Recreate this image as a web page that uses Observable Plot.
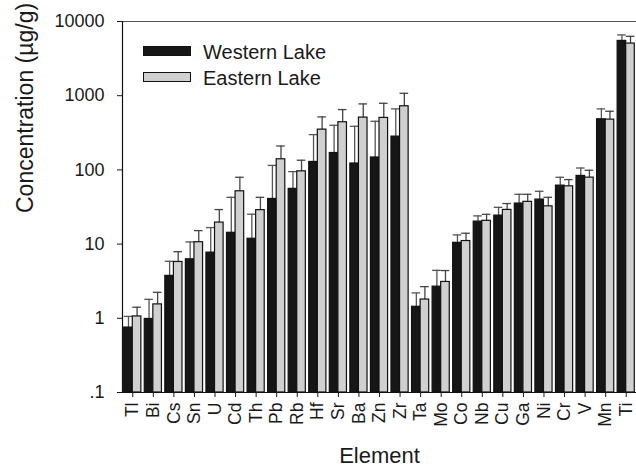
<!DOCTYPE html>
<html>
<head>
<meta charset="utf-8">
<script src="https://cdn.jsdelivr.net/npm/d3@7"></script>
<script src="https://cdn.jsdelivr.net/npm/@observablehq/plot@0.6"></script>
<style>
  body { margin: 0; background: #fff; overflow: hidden; }
  #wrap { position: relative; width: 636px; height: 471px; overflow: hidden; font-family: "Liberation Sans", Arial, sans-serif; }
  #wrap svg { display: block; }
  .lg { position: absolute; left: 143px; font-size: 20px; color: #1a1a1a; }
  .sw { position: absolute; left: 0; width: 45.5px; height: 8px; border: 1.2px solid #111; }
  .lt { position: absolute; left: 60px; white-space: nowrap; line-height: 20px; }
</style>
</head>
<body>
<div id="wrap"></div>
<script>
const elements = ["Tl","Bi","Cs","Sn","U","Cd","Th","Pb","Rb","Hf","Sr","Ba","Zn","Zr","Ta","Mo","Co","Nb","Cu","Ga","Ni","Cr","V","Mn","Ti"];
const western      = [0.75, 0.98, 3.73, 6.24, 7.68, 14.2, 11.8, 40.6, 55.5, 128, 169, 122, 147, 281, 1.43, 2.67, 10.4, 20.1, 24.2, 35.2, 39.8, 61.4, 83, 481, 5475];
const westernUpper = [1.06, 1.80, 5.86, 10.7, 16.7, 42.7, 25.3, 115, 94.8, 299, 399, 387, 452, 664, 2.2, 4.43, 13.3, 24.0, 31.3, 46.9, 51.5, 79.5, 106, 664, 6590];
const eastern      = [1.06, 1.54, 5.75, 10.6, 19.5, 51.5, 28.7, 139, 95.7, 349, 439, 507, 502, 720, 1.79, 3.09, 11.0, 20.6, 28.9, 37.1, 32.3, 60.1, 78.7, 476, 5040];
const easternUpper = [1.41, 2.24, 7.9, 15.2, 29.2, 79.5, 42.7, 210, 135, 518, 650, 775, 790, 1077, 2.67, 4.4, 14.0, 25.2, 35.2, 46.9, 42.7, 74, 98.9, 617, 6310];
const seriesNames = ["Western Lake", "Eastern Lake"];
const yTicks = [0.1, 1, 10, 100, 1000, 10000];
const yTickLabels = [".1", "1", "10", "100", "1000", "10000"];
const xTitle = "Element";
const yTitle = "Concentration (µg/g)";

const W = elements.map((e, i) => ({element: e, lake: seriesNames[0], value: western[i], upper: westernUpper[i]}));
const E = elements.map((e, i) => ({element: e, lake: seriesNames[1], value: eastern[i], upper: easternUpper[i]}));

const x0 = 122, x1 = 636;
const step = (x1 - x0) / elements.length;
const half = step / 2;
const edge = 1.7;
const off = (half - edge) / 2 + edge - half;
const base = yTicks[0];

const chart = Plot.plot({
  width: 636,
  height: 471,
  marginLeft: 122,
  marginTop: 21,
  marginBottom: 79,
  marginRight: 0,
  style: {fontFamily: "Liberation Sans, Arial, sans-serif", fontSize: "18px", color: "#1a1a1a", background: "white"},
  x: {type: "band", domain: elements, range: [x0, x1], padding: 0, round: false},
  y: {type: "log", domain: [yTicks[0], yTicks[yTicks.length - 1]]},
  marks: [
    Plot.ruleX(W, {x: "element", y1: "value", y2: "upper", dx: off, stroke: "#555", strokeWidth: 1.3}),
    Plot.ruleX(E, {x: "element", y1: "value", y2: "upper", dx: -off, stroke: "#444", strokeWidth: 1.3}),
    Plot.tickY(W, {x: "element", y: "upper", insetLeft: edge, insetRight: half, stroke: "#555", strokeWidth: 1.3}),
    Plot.tickY(E, {x: "element", y: "upper", insetLeft: half, insetRight: edge, stroke: "#444", strokeWidth: 1.3}),
    Plot.barY(W, {x: "element", y1: () => base, y2: "value", insetLeft: edge, insetRight: half, fill: "#161616", stroke: "#111", strokeWidth: 1.2}),
    Plot.barY(E, {x: "element", y1: () => base, y2: "value", insetLeft: half, insetRight: edge, fill: "#d0d0d0", stroke: "#111", strokeWidth: 1.2}),
    Plot.ruleY([yTicks[yTicks.length - 1]], {stroke: "#555", strokeWidth: 1.2}),
    Plot.ruleY([base], {stroke: "#111", strokeWidth: 1.2}),
    Plot.frame({anchor: "left", stroke: "#111", strokeWidth: 1.2}),
    Plot.axisY({ticks: yTicks, tickFormat: d => yTickLabels[yTicks.indexOf(d)], tickSize: 5, tickPadding: 13, fontSize: 18, label: null}),
    Plot.axisX({tickRotate: -90, tickSize: 5, tickPadding: 5, fontSize: 17.5, label: null}),
    Plot.text([yTitle], {frameAnchor: "left", rotate: -90, dx: -97, dy: 6, fontSize: 23, fill: "#1a1a1a"}),
    Plot.text([xTitle], {frameAnchor: "bottom", dy: 70, fontSize: 22, fill: "#1a1a1a"})
  ]
});

const wrap = document.getElementById("wrap");
wrap.appendChild(chart);
const colors = ["#161616", "#d0d0d0"];
seriesNames.forEach((name, i) => {
  const g = document.createElement("div");
  g.className = "lg";
  g.style.top = (46 + i * 26) + "px";
  const sw = document.createElement("div");
  sw.className = "sw";
  sw.style.background = colors[i];
  const t = document.createElement("div");
  t.className = "lt";
  t.style.top = "-4px";
  t.textContent = name;
  g.appendChild(sw);
  g.appendChild(t);
  wrap.appendChild(g);
});
</script>
</body>
</html>
